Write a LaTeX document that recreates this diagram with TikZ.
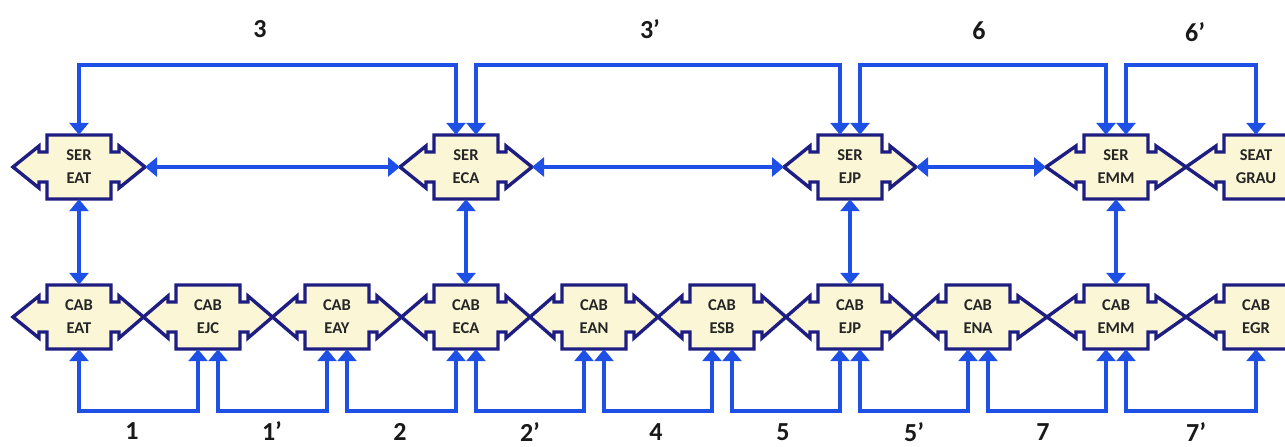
\documentclass[tikz,border=0pt]{standalone}
\usepackage{fontspec}
\setmainfont{Carlito}
\usetikzlibrary{arrows.meta}
\definecolor{boxfill}{RGB}{251,246,214}
\definecolor{boxline}{RGB}{30,30,130}
\definecolor{linkblue}{RGB}{30,80,230}
\tikzset{
  stnshape/.style={draw=boxline, fill=boxfill, line width=3.4pt, line join=miter},
  stntext/.style={draw=none, inner sep=0pt, minimum width=64pt, minimum height=64pt,
    align=center, text=black!85, font=\fontsize{16.5}{23}\selectfont\bfseries},
  link/.style={draw=linkblue, line width=3.6pt,
    {Triangle[length=12pt,width=19pt]}-{Triangle[length=12pt,width=19pt]}},
  lbl/.style={font=\fontsize{26}{28}\selectfont\bfseries, text=black!90, inner sep=0pt}
}
% #1 name, #2 x, #3 y, #4 text, #5 left length, #6 right length
\newcommand\stnode[6]{%
  \draw[stnshape] (#2-32,#3-32) -- (#2+32,#3-32) -- (#2+32,#3-15) -- (#2+40,#3-15)
    -- (#2+40,#3-21) -- (#2+32+#6,#3) -- (#2+40,#3+21) -- (#2+40,#3+15)
    -- (#2+32,#3+15) -- (#2+32,#3+32) -- (#2-32,#3+32) -- (#2-32,#3+15)
    -- (#2-40,#3+15) -- (#2-40,#3+21) -- (#2-32-#5,#3) -- (#2-40,#3-21)
    -- (#2-40,#3-15) -- (#2-32,#3-15) -- cycle;
  \node[stntext] (#1) at (#2,#3) {#4};
  \coordinate (#1-L) at (#2-32-#5,#3);
  \coordinate (#1-R) at (#2+32+#6,#3);
}
\begin{document}
\begin{tikzpicture}[x=1pt,y=-1pt]
\useasboundingbox (0,0) rectangle (1285,447);
\clip (0,0) rectangle (1285,447);
\fill[white] (0,0) rectangle (1285,447);
\coordinate (lvT) at (0,65);
\coordinate (lvB) at (0,411);

% top row
\stnode{serEAT}{79}{167}{SER\\EAT}{34}{34}
\stnode{serECA}{466}{167}{SER\\ECA}{34}{34}
\stnode{serEJP}{850}{167}{SER\\EJP}{34}{34}
\stnode{serEMM}{1116}{167}{SER\\EMM}{38}{38}
\stnode{serGRAU}{1256}{167}{SEAT\\GRAU}{38}{34}

% bottom row
\stnode{cabEAT}{79}{317}{CAB\\EAT}{34}{32.5}
\stnode{cabEJC}{208}{317}{CAB\\EJC}{32.5}{32.5}
\stnode{cabEAY}{337}{317}{CAB\\EAY}{32.5}{32.5}
\stnode{cabECA}{466}{317}{CAB\\ECA}{32.5}{32}
\stnode{cabEAN}{594}{317}{CAB\\EAN}{32}{32}
\stnode{cabESB}{722}{317}{CAB\\ESB}{32}{32}
\stnode{cabEJP}{850}{317}{CAB\\EJP}{32}{32}
\stnode{cabENA}{978}{317}{CAB\\ENA}{32}{37}
\stnode{cabEMM}{1116}{317}{CAB\\EMM}{37}{38}
\stnode{cabEGR}{1256}{317}{CAB\\EGR}{38}{34}

% horizontal links, top row
\draw[link] (serEAT-R) -- (serECA-L);
\draw[link] (serECA-R) -- (serEJP-L);
\draw[link] (serEJP-R) -- (serEMM-L);

% vertical links
\draw[link] (serEAT.south) -- (cabEAT.north);
\draw[link] (serECA.south) -- (cabECA.north);
\draw[link] (serEJP.south) -- (cabEJP.north);
\draw[link] (serEMM.south) -- (cabEMM.north);

% top loops
\draw[link] (serEAT.north) -- (serEAT.north |- lvT) -| ([xshift=-10pt]serECA.north);
\draw[link] ([xshift=10pt]serECA.north) -- ([xshift=10pt]serECA.north |- lvT) -| ([xshift=-10pt]serEJP.north);
\draw[link] ([xshift=10pt]serEJP.north) -- ([xshift=10pt]serEJP.north |- lvT) -| ([xshift=-10pt]serEMM.north);
\draw[link] ([xshift=10pt]serEMM.north) -- ([xshift=10pt]serEMM.north |- lvT) -| (serGRAU.north);

% bottom loops
\draw[link] (cabEAT.south) -- (cabEAT.south |- lvB) -| ([xshift=-10pt]cabEJC.south);
\draw[link] ([xshift=10pt]cabEJC.south) -- ([xshift=10pt]cabEJC.south |- lvB) -| ([xshift=-10pt]cabEAY.south);
\draw[link] ([xshift=10pt]cabEAY.south) -- ([xshift=10pt]cabEAY.south |- lvB) -| ([xshift=-10pt]cabECA.south);
\draw[link] ([xshift=10pt]cabECA.south) -- ([xshift=10pt]cabECA.south |- lvB) -| ([xshift=-10pt]cabEAN.south);
\draw[link] ([xshift=10pt]cabEAN.south) -- ([xshift=10pt]cabEAN.south |- lvB) -| ([xshift=-10pt]cabESB.south);
\draw[link] ([xshift=10pt]cabESB.south) -- ([xshift=10pt]cabESB.south |- lvB) -| ([xshift=-10pt]cabEJP.south);
\draw[link] ([xshift=10pt]cabEJP.south) -- ([xshift=10pt]cabEJP.south |- lvB) -| ([xshift=-10pt]cabENA.south);
\draw[link] ([xshift=10pt]cabENA.south) -- ([xshift=10pt]cabENA.south |- lvB) -| ([xshift=-10pt]cabEMM.south);
\draw[link] ([xshift=10pt]cabEMM.south) -- ([xshift=10pt]cabEMM.south |- lvB) -| (cabEGR.south);

% labels
\node[lbl] (l3) at (260,29) {3};
\node[lbl] (l3p) at (650,29) {3'};
\node[lbl] (l6) at (979,31) {6};
\node[lbl] (l6p) at (1195,32) {6'};
\node[lbl] (l1) at (132,431) {1};
\node[lbl] (l1p) at (272,431) {1'};
\node[lbl] (l2) at (400,432) {2};
\node[lbl] (l2p) at (530,432) {2'};
\node[lbl] (l4) at (656,432) {4};
\node[lbl] (l5) at (783,432) {5};
\node[lbl] (l5p) at (914,432) {5'};
\node[lbl] (l7) at (1043,432) {7};
\node[lbl] (l7p) at (1196,432) {7'};
\end{tikzpicture}
\end{document}
